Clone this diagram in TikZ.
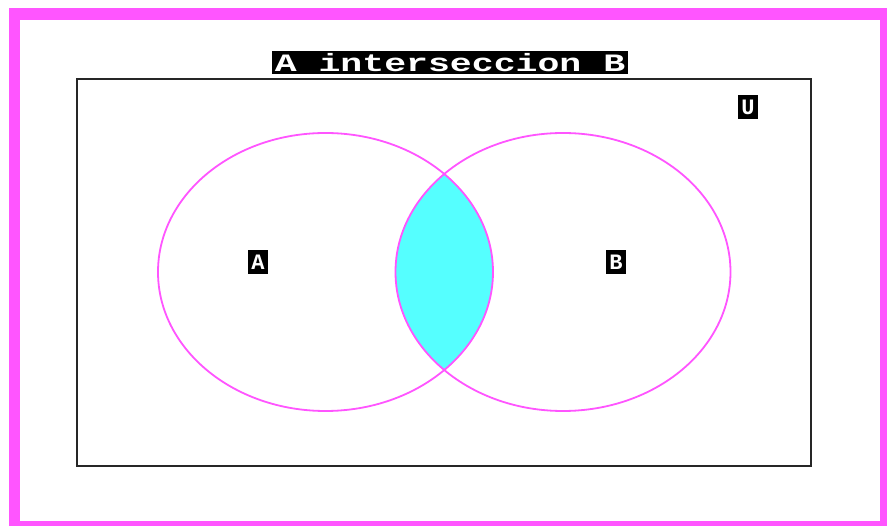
\documentclass[tikz,border=0pt]{standalone}
\usepackage{fontspec}
\newfontfamily\pix{Liberation Mono}
\definecolor{cgamag}{HTML}{FF55FF}
\definecolor{cgacyan}{HTML}{55FFFF}
\tikzset{
  lbl/.style={fill=black,text=white,font=\pix\bfseries\fontsize{22}{22}\selectfont,inner sep=0pt,minimum width=20pt,minimum height=24pt},
  setline/.style={draw=cgamag,line width=1.8pt}
}
\begin{document}
\begin{tikzpicture}[x=1pt,y=-1pt]
\useasboundingbox (0,0) rectangle (887,526);
\fill[white] (0,0) rectangle (887,526);
\fill[cgamag] (9,8) rectangle (887,526);
\fill[white] (20,20) rectangle (880,521);
% universe
\draw[black!85,line width=2.4pt] (77,79) rectangle (811,466);
\node[fill=black,text=white,font=\pix\bfseries\fontsize{25}{25}\selectfont,minimum width=356pt,minimum height=23pt,inner sep=0pt] (title) at (450,63) {\scalebox{1.46}[1]{A interseccion B}};
% lens
\begin{scope}
  \clip (325.5,272) ellipse [x radius=167.5pt,y radius=139pt];
  \fill[cgacyan] (563,272) ellipse [x radius=167.5pt,y radius=139pt];
\end{scope}
\draw[setline] (325.5,272) ellipse [x radius=167.5pt,y radius=139pt];
\draw[setline] (563,272) ellipse [x radius=167.5pt,y radius=139pt];
\node[lbl] (A) at (258,262) {A};
\node[lbl] (B) at (616,262) {B};
\node[lbl] (U) at (748,107) {U};
\end{tikzpicture}
\end{document}
